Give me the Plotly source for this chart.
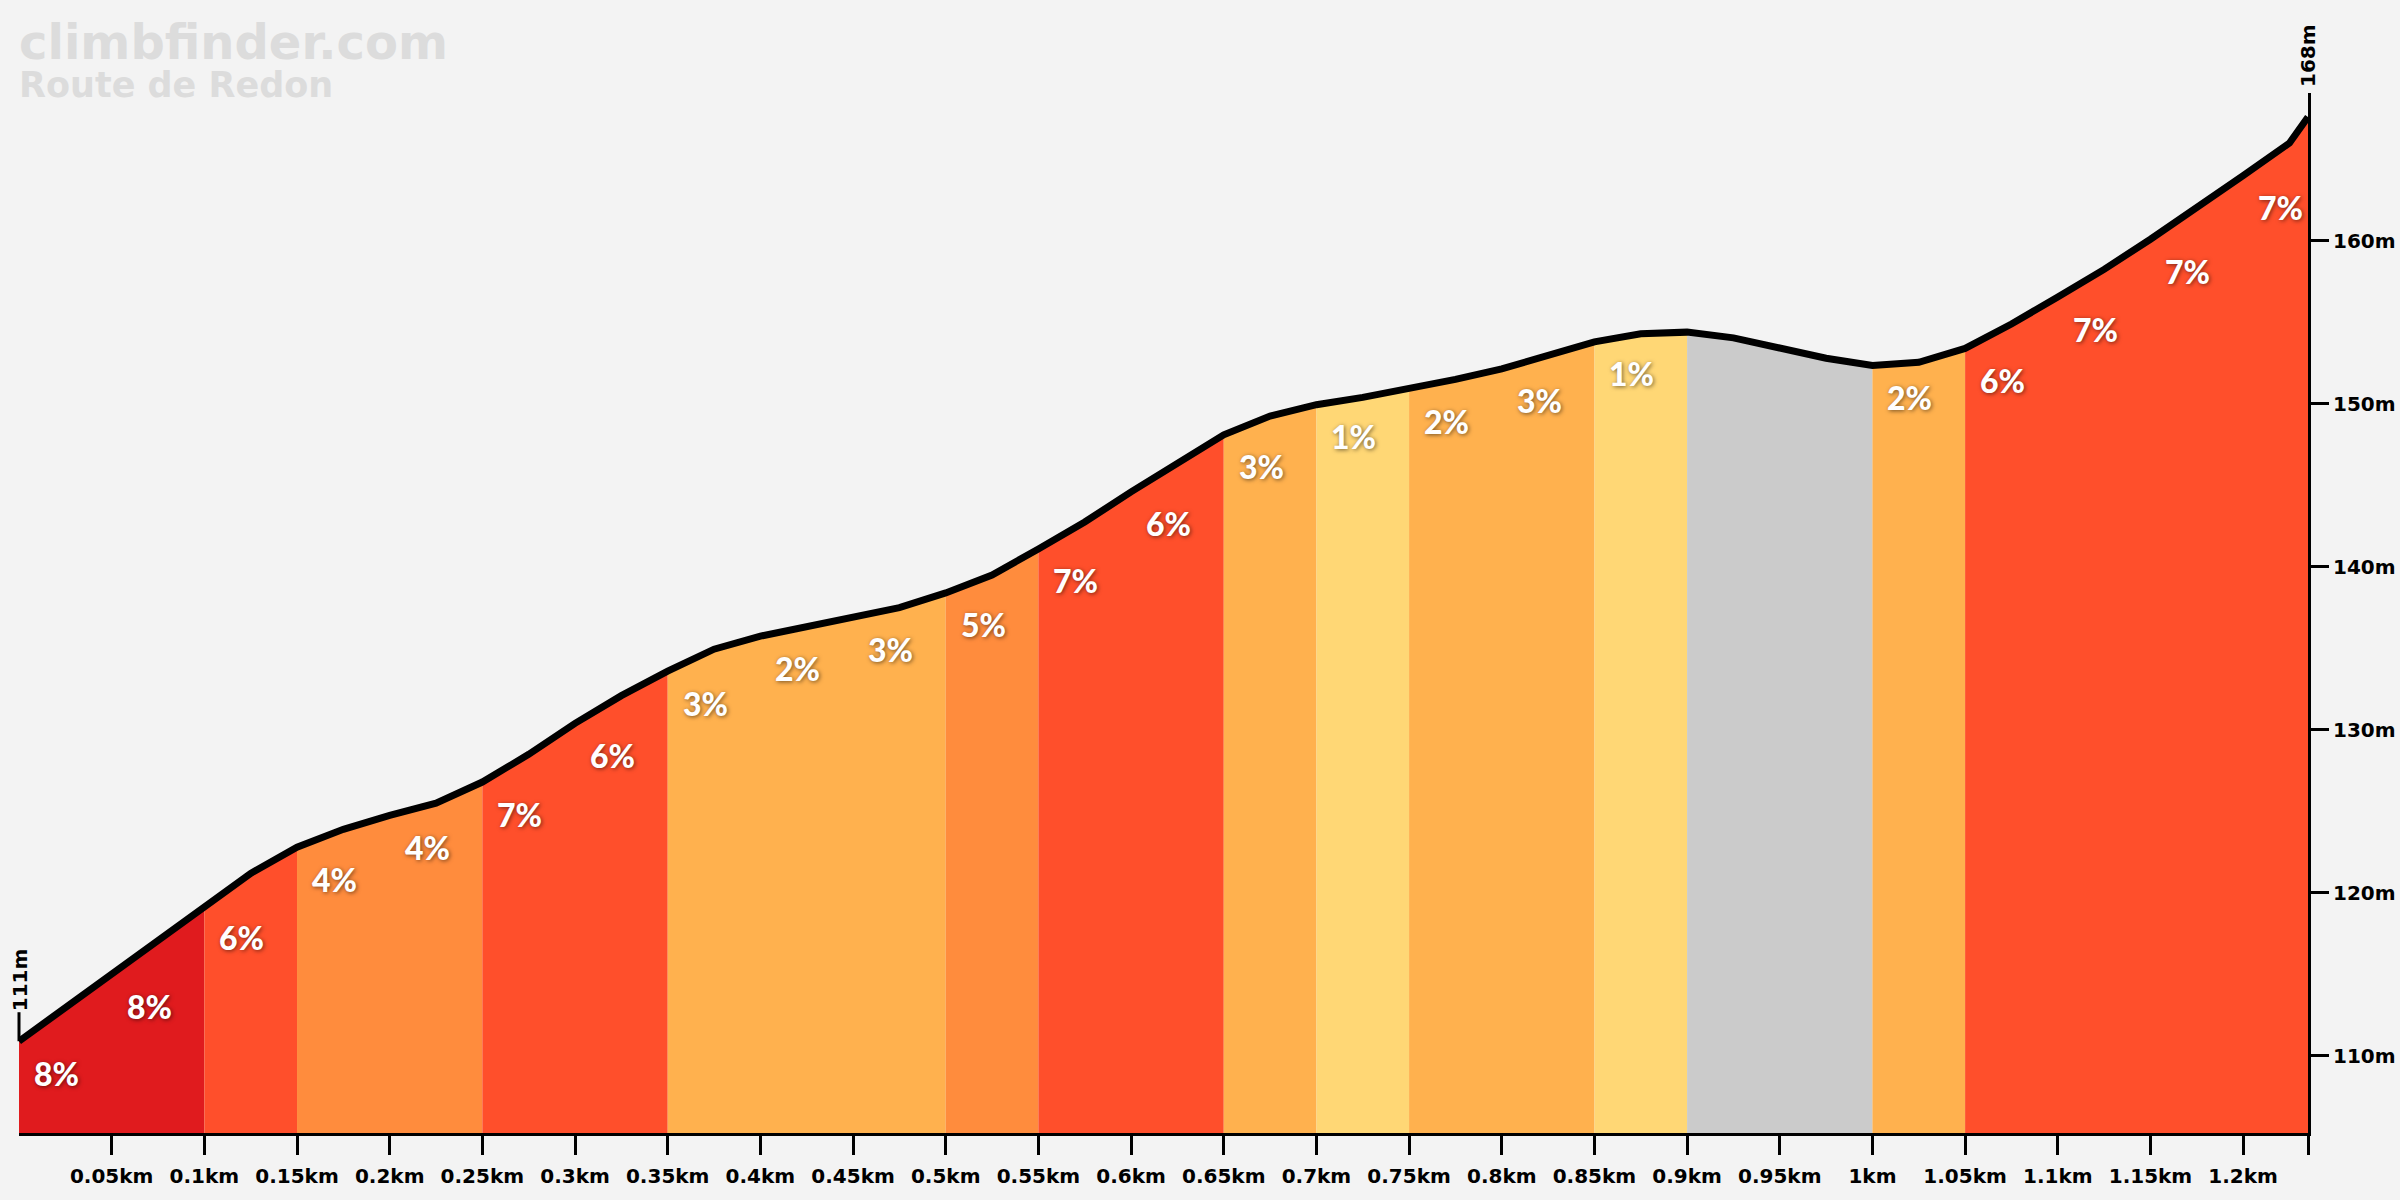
import plotly.graph_objects as go

# ---------------- data ----------------
dist_km = [0.0, 0.025, 0.05, 0.075, 0.1, 0.125, 0.15, 0.175, 0.2, 0.225,
           0.25, 0.275, 0.3, 0.325, 0.35, 0.375, 0.4, 0.425, 0.45, 0.475,
           0.5, 0.525, 0.55, 0.575, 0.6, 0.625, 0.65, 0.675, 0.7, 0.725,
           0.75, 0.775, 0.8, 0.825, 0.85, 0.875, 0.9, 0.925, 0.95, 0.975,
           1.0, 1.025, 1.05, 1.075, 1.1, 1.125, 1.15, 1.175, 1.2, 1.225, 1.235]
elev_m = [110.9, 112.95, 115.0, 117.1, 119.2, 121.2, 122.8, 123.9, 124.75, 125.5,
          126.8, 128.5, 130.4, 132.1, 133.6, 134.95, 135.75, 136.3, 136.9, 137.5,
          138.4, 139.5, 141.1, 142.75, 144.6, 146.4, 148.1, 149.25, 149.95, 150.4,
          150.9, 151.5, 152.15, 153.0, 153.8, 154.3, 154.4, 154.05, 153.4, 152.8,
          152.35, 152.55, 153.4, 154.9, 156.55, 158.25, 160.1, 162.0, 164.0, 166.0, 167.6]

seg_start_km = [0.0, 0.05, 0.1, 0.15, 0.2, 0.25, 0.3, 0.35, 0.4, 0.45, 0.5, 0.55,
                0.6, 0.65, 0.7, 0.75, 0.8, 0.85, 0.9, 0.95, 1.0, 1.05, 1.1, 1.15, 1.2]
seg_end_km = [0.05, 0.1, 0.15, 0.2, 0.25, 0.3, 0.35, 0.4, 0.45, 0.5, 0.55, 0.6,
              0.65, 0.7, 0.75, 0.8, 0.85, 0.9, 0.95, 1.0, 1.05, 1.1, 1.15, 1.2, 1.235]
seg_grade = [8, 8, 6, 4, 4, 7, 6, 3, 2, 3, 5, 7, 6, 3, 1, 2, 3, 1, -1, -1, 2, 6, 7, 7, 7]

x_tick_vals = [0.05, 0.1, 0.15, 0.2, 0.25, 0.3, 0.35, 0.4, 0.45, 0.5, 0.55, 0.6,
               0.65, 0.7, 0.75, 0.8, 0.85, 0.9, 0.95, 1.0, 1.05, 1.1, 1.15, 1.2, 1.235]
x_tick_text = ["0.05km", "0.1km", "0.15km", "0.2km", "0.25km", "0.3km", "0.35km",
               "0.4km", "0.45km", "0.5km", "0.55km", "0.6km", "0.65km", "0.7km",
               "0.75km", "0.8km", "0.85km", "0.9km", "0.95km", "1km", "1.05km",
               "1.1km", "1.15km", "1.2km", ""]
y_tick_vals = [110, 120, 130, 140, 150, 160]
y_tick_text = ["110m", "120m", "130m", "140m", "150m", "160m"]

site_title = "climbfinder.com"
climb_name = "Route de Redon"
start_label = "111m"
end_label = "168m"

# ---------------- style ----------------
FONT = "DejaVu Sans"
PCT_FONT = "Lato"
BG = "#f3f3f3"


def grade_color(g):
    if g < 0:
        return "#cbcbcb"
    if g < 2:
        return "#ffd775"
    if g < 4:
        return "#ffb14e"
    if g < 6:
        return "#ff8c3d"
    if g < 8:
        return "#ff4f2b"
    return "#e01b1e"


def elev_at(d):
    for i in range(len(dist_km) - 1):
        a, b = dist_km[i], dist_km[i + 1]
        if a - 1e-9 <= d <= b + 1e-9:
            t = (d - a) / (b - a)
            return elev_m[i] + t * (elev_m[i + 1] - elev_m[i])
    return elev_m[-1]


fig = go.Figure()

# merge consecutive segments of the same colour into one band
runs = []
for s, e, g in zip(seg_start_km, seg_end_km, seg_grade):
    c = grade_color(g)
    if runs and runs[-1][2] == c:
        runs[-1][1] = e
    else:
        runs.append([s, e, c])

for s, e, c in runs:
    xs = [s] + [d for d in dist_km if s + 1e-9 < d < e - 1e-9] + [e]
    ys = [elev_at(d) for d in xs]
    fig.add_trace(go.Scatter(
        x=xs, y=ys, mode="lines", line=dict(width=0, color=c),
        fill="tozeroy", fillcolor=c, hoverinfo="skip", showlegend=False))

# profile line
fig.add_trace(go.Scatter(
    x=dist_km, y=elev_m, mode="lines",
    line=dict(color="#000000", width=7), hoverinfo="skip", showlegend=False))

annotations = []
for s, g in zip(seg_start_km, seg_grade):
    if g < 0:
        continue
    annotations.append(dict(
        x=s, y=elev_at(s), xref="x", yref="y", text=f"{g}%", showarrow=False,
        xanchor="left", yanchor="middle", xshift=13, yshift=-32,
        font=dict(family=PCT_FONT, size=32, color="#ffffff", weight=900,
                  shadow="1px 1px 4px rgba(0,0,0,0.55)")))

# title block (one text, two lines)
annotations.append(dict(
    x=0, y=1, xref="paper", yref="paper",
    text=(f'<span style="font-size:48px">{site_title}</span><br>'
          f'<span style="font-size:35px">{climb_name}</span>'),
    showarrow=False, align="left",
    xanchor="left", yanchor="top", xshift=-2, yshift=81,
    font=dict(family=FONT, size=29, color="#dcdcdc", weight="bold")))

# start / end elevation labels
annotations.append(dict(
    x=0, y=elev_m[0], xref="paper", yref="y", text=start_label, showarrow=False,
    textangle=-90, xanchor="center", yanchor="middle", xshift=1, yshift=61,
    font=dict(family=FONT, size=20, color="#000000", weight="bold")))
annotations.append(dict(
    x=1, y=1, xref="paper", yref="paper", text=end_label, showarrow=False,
    textangle=-90, xanchor="center", yanchor="middle", xshift=0, yshift=37,
    font=dict(family=FONT, size=20, color="#000000", weight="bold")))

shapes = [dict(type="line", xref="paper", yref="y", x0=0, x1=0,
               ysizemode="pixel", yanchor=elev_m[0], y0=0, y1=29,
               line=dict(color="#000000", width=3))]

fig.update_layout(
    width=2400, height=1200,
    margin=dict(l=19, r=92, t=93, b=67, autoexpand=False),
    paper_bgcolor=BG, plot_bgcolor=BG,
    showlegend=False,
    annotations=annotations, shapes=shapes,
    xaxis=dict(
        range=[0, dist_km[-1]], showgrid=False, zeroline=False, automargin=False,
        showline=True, linecolor="#000000", linewidth=3,
        tickmode="array", tickvals=x_tick_vals, ticktext=x_tick_text,
        ticks="outside", ticklen=19, tickwidth=3, tickcolor="#000000",
        ticklabelstandoff=4,
        tickfont=dict(family=FONT, size=20, color="#000000", weight="bold"),
        fixedrange=True),
    yaxis=dict(
        range=[105.27, 169.07], side="right", showgrid=False, zeroline=False,
        automargin=False,
        showline=True, linecolor="#000000", linewidth=3,
        tickmode="array", tickvals=y_tick_vals, ticktext=y_tick_text,
        ticks="outside", ticklen=18, tickwidth=3, tickcolor="#000000",
        tickfont=dict(family=FONT, size=20, color="#000000", weight="bold"),
        fixedrange=True),
)

fig.write_html("out.html")
